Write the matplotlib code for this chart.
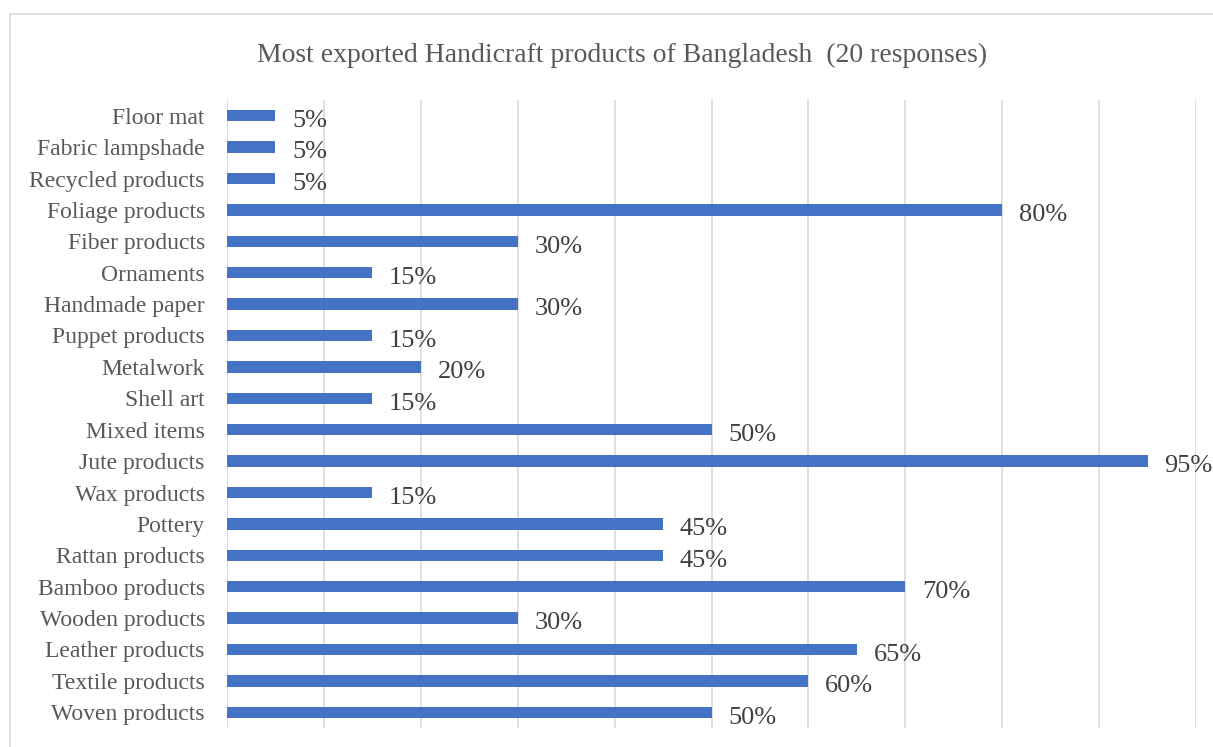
import matplotlib.pyplot as plt
from matplotlib.patches import Rectangle

categories = [
    "Woven products", "Textile products", "Leather products", "Wooden products",
    "Bamboo products", "Rattan products", "Pottery", "Wax products",
    "Jute products", "Mixed items", "Shell art", "Metalwork",
    "Puppet products", "Handmade paper", "Ornaments", "Fiber products",
    "Foliage products", "Recycled products", "Fabric lampshade", "Floor mat",
]
shares = [50, 60, 65, 30, 70, 45, 45, 15, 95, 50, 15, 20, 15, 30, 15, 30, 80, 5, 5, 5]

plt.rcParams['font.family'] = ['Liberation Serif', 'DejaVu Serif']

W, H = 1213, 747
fig = plt.figure(figsize=(W / 100, H / 100), dpi=100)

# outer chart border
fig.patches.append(Rectangle((10 / W, -0.05), 1.1, 1 - 14 / H + 0.05,
                             transform=fig.transFigure, fill=False,
                             edgecolor='#D9D9D9', linewidth=1.2))

ax = fig.add_axes([227 / W, 1 - 728 / H, (1196 - 227) / W, (728 - 100) / H])
y = range(len(categories))
ax.barh(y, shares, height=0.36, color='#4472C4', zorder=3)
ax.set_xlim(0, 100)
ax.set_ylim(-0.5, len(categories) - 0.5)
ax.set_yticks(list(y))
ax.set_yticklabels(categories, fontsize=17, color='#595959', va='center_baseline')
ax.set_xticks(range(0, 101, 10))
ax.tick_params(axis='x', length=0, labelbottom=False)
ax.tick_params(axis='y', length=0, pad=16)
ax.grid(axis='x', color='#D9D9D9', linewidth=1.2, zorder=0)
for s in ax.spines.values():
    s.set_visible(False)

for i, v in enumerate(shares):
    ax.annotate(f"{v}%", (v, i), xytext=(12, -2), textcoords='offset points',
                va='center_baseline', ha='left', fontsize=19, color='#404040',
                annotation_clip=False)

fig.text(622 / W, 1 - 55 / H, "Most exported Handicraft products of Bangladesh  (20 responses)",
         ha='center', va='center', fontsize=20, color='#595959')

fig.savefig('out.png', dpi=100)
